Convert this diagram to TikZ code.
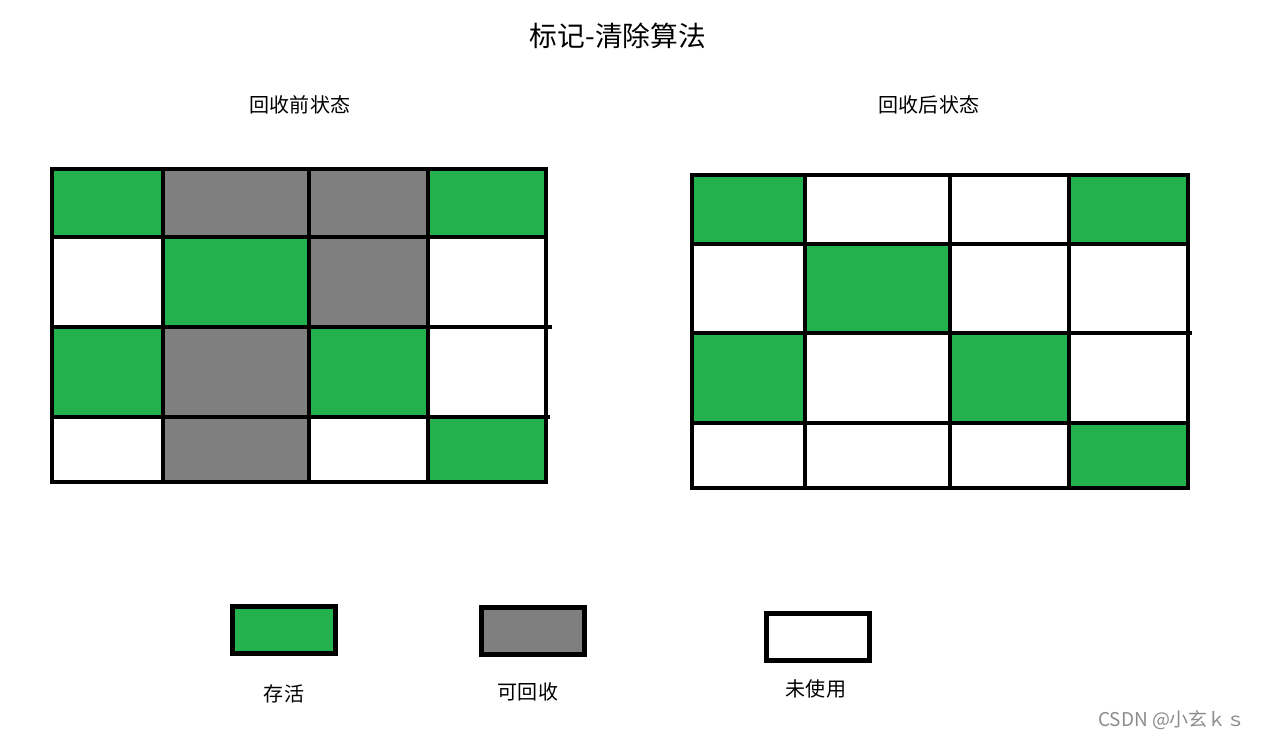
\documentclass[tikz,border=0pt]{standalone}
\usepackage{fontspec}
\setmainfont{Noto Sans CJK SC}
\definecolor{paintgreen}{HTML}{22B14C}
\definecolor{paintgray}{HTML}{7F7F7F}
\begin{document}
\begin{tikzpicture}[x=0.02cm, y=-0.02cm,
    % Stile für die Zellen
        alive/.style={fill=paintgreen},
        garbage/.style={fill=paintgray},
    % Stil für die Gitterlinien
        gridline/.style={draw=black, line width=2.8pt},
    % Stil für die Legendenkästen
        legendbox/.style={rectangle, draw=black, line width=2.8pt, minimum width=2.05cm, minimum height=0.95cm},
        caption/.style={font=\fontsize{11.4}{13}\selectfont}]

        \useasboundingbox (0,0) rectangle (1262,739);

        % Überschriften
        \node[font=\fontsize{15.8}{18}\selectfont] (title) at (618,36) {标记-清除算法};
        \node[caption] (before) at (300,105) {回收前状态};
        \node[caption] (after) at (929,105) {回收后状态};

        % Zellen vor dem Sammeln
        \foreach \xa/\ya/\xb/\yb in {52/169/163/237, 428/169/546/237, 163/237/309/327, 52/327/163/417, 309/327/428/417, 428/417/546/482}
            \fill[alive] (\xa,\ya) rectangle (\xb,\yb);
        \foreach \xa/\ya/\xb/\yb in {163/169/309/237, 309/169/428/237, 309/237/428/327, 163/327/309/417, 163/417/309/482}
            \fill[garbage] (\xa,\ya) rectangle (\xb,\yb);

        % Zellen nach dem Sammeln
        \foreach \xa/\ya/\xb/\yb in {692/175/805/244, 1069/175/1188/244, 805/244/950/333, 692/333/805/423, 950/333/1069/423, 1069/423/1188/488}
            \fill[alive] (\xa,\ya) rectangle (\xb,\yb);

        % Gitter links
        \draw[gridline] (52,169) rectangle (546,482);
        \foreach \x in {163,309,428}
            \draw[gridline] (\x,169) -- (\x,482);
        \foreach \y/\e in {237/546,327/552,417/550}
            \draw[gridline] (52,\y) -- (\e,\y);

        % Gitter rechts
        \draw[gridline] (692,175) rectangle (1188,488);
        \foreach \x in {805,950,1069}
            \draw[gridline] (\x,175) -- (\x,488);
        \foreach \y/\e in {244/1188,333/1192,423/1190}
            \draw[gridline] (692,\y) -- (\e,\y);

        % Legende
        \node[legendbox, fill=paintgreen] (alivebox) at (284,630) {};
        \node[legendbox, fill=paintgray] (garbagebox) at (533,631) {};
        \node[legendbox, fill=white] (freebox) at (818,637) {};
        \node[caption] (alivetext) at (284,694) {存活};
        \node[caption] (garbagetext) at (528,692) {可回收};
        \node[caption] (freetext) at (816,689) {未使用};

        % Wasserzeichen
        \node[font=\fontsize{10.8}{12}\selectfont, text=black!45] (mark) at (1172,720) {CSDN @小玄ｋｓ};
    \end{tikzpicture}
\end{document}
